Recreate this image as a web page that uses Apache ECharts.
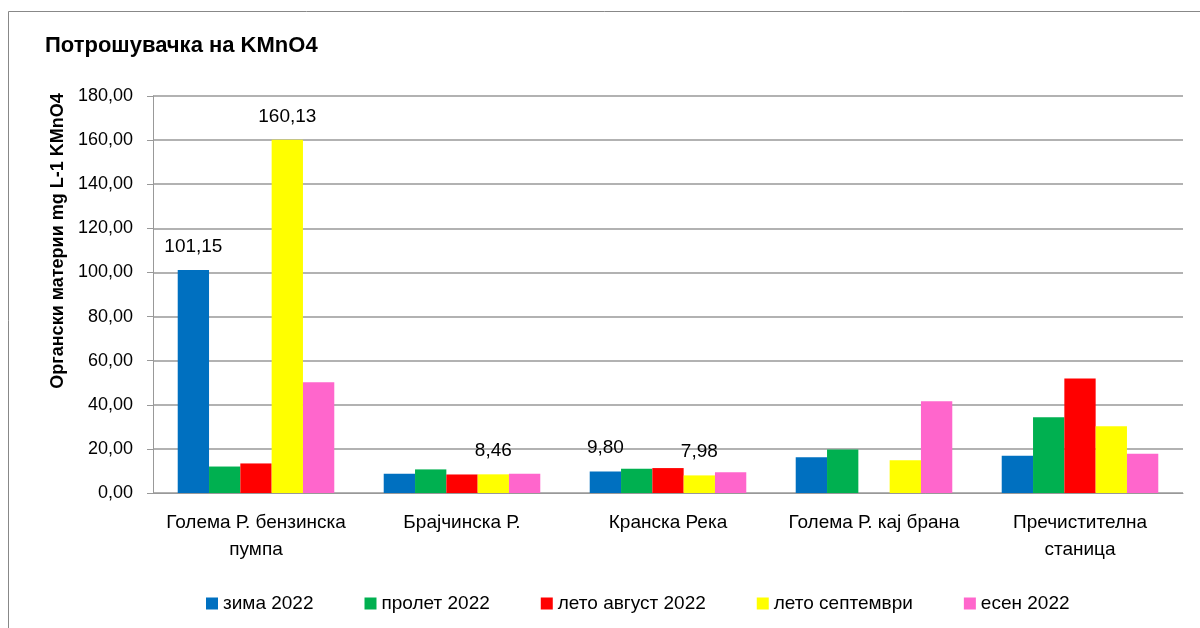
<!DOCTYPE html>
<html><head><meta charset="utf-8">
<script src="https://cdn.jsdelivr.net/npm/echarts@6/dist/echarts.min.js"></script>
<style>html,body{margin:0;padding:0;background:#fff}#c{width:1200px;height:628px}</style>
</head><body><div id="c"></div>
<script>
const title = 'Потрошувачка на KMnO4';
const yName = 'Органски материи mg L-1 KMnO4';
const categories = ['Голема Р. бензинска\nпумпа', 'Брајчинска Р.', 'Кранска Река', 'Голема Р. кај брана', 'Пречистителна\nстаница'];
const seriesNames = ['зима 2022', 'пролет 2022', 'лето август 2022', 'лето септември', 'есен 2022'];
const colors = ['#0070C0', '#00B050', '#FF0000', '#FFFF00', '#FF66CC'];
const zima = [101.15, 8.7, 9.80, 16.2, 16.9];
const prolet = [12.0, 10.7, 11.0, 19.7, 34.3];
const letoAvgust = [13.4, 8.4, 11.3, null, 51.9];
const letoSeptemvri = [160.13, 8.46, 7.98, 14.8, 30.3];
const esen = [50.2, 8.7, 9.4, 41.6, 17.8];
// which bars carry a data label (series index -> category indices)
const labelled = [[0, 2], [], [], [0, 1, 2], []];
const allData = [zima, prolet, letoAvgust, letoSeptemvri, esen];
const yTicks = { min: 0, max: 180, interval: 20 };

const font = 'Liberation Sans';
const fmt = v => v.toFixed(2).replace('.', ',');

const chart = echarts.init(document.getElementById('c'), null, { renderer: 'canvas' });
chart.setOption({
  animation: false,
  backgroundColor: '#fff',
  title: { text: title, left: 40, top: 30, textStyle: { fontFamily: font, fontSize: 22, fontWeight: 'bold', color: '#000' } },
  graphic: [
    { type: 'rect', shape: { x: 8.5, y: 11.5, width: 1300, height: 700 }, style: { fill: 'none', stroke: '#888', lineWidth: 1 }, silent: true },
    { type: 'text', x: 58, y: 241, rotation: Math.PI / 2, silent: true,
      style: { text: yName, fontFamily: font, fontSize: 18, fontWeight: 'bold', fill: '#000', align: 'center', verticalAlign: 'middle' } }
  ],
  grid: { left: 153, right: 17, top: 96, bottom: 135, containLabel: false },
  legend: {
    top: 589, left: 201, itemWidth: 12, itemHeight: 12, itemGap: 51, icon: 'rect',
    textStyle: { fontFamily: font, fontSize: 19, color: '#000', padding: [0, 0, 0, 0] },
    data: seriesNames
  },
  xAxis: {
    type: 'category', data: categories,
    axisLine: { lineStyle: { color: '#999', width: 1 } },
    axisTick: { show: false },
    axisLabel: { fontFamily: font, fontSize: 19, color: '#000', margin: 16, lineHeight: 27, interval: 0 }
  },
  yAxis: {
    type: 'value', min: yTicks.min, max: yTicks.max, interval: yTicks.interval,
    axisLine: { show: true, lineStyle: { color: '#999', width: 1 } },
    axisTick: { show: true, inside: false, length: 6, lineStyle: { color: '#999' } },
    splitLine: { lineStyle: { color: '#999', width: 1.5 } },
    axisLabel: { fontFamily: font, fontSize: 18, color: '#000', margin: 20, formatter: v => fmt(v) }
  },
  series: seriesNames.map((name, si) => ({
    name, type: 'bar', barGap: '0%', barCategoryGap: '24%',
    itemStyle: { color: colors[si] },
    data: allData[si].map((v, ci) => ({
      value: v,
      label: {
        show: v !== null && labelled[si].includes(ci),
        position: 'top', distance: 14, formatter: p => fmt(p.value),
        fontFamily: font, fontSize: 19, color: '#000'
      }
    }))
  }))
});
</script></body></html>
